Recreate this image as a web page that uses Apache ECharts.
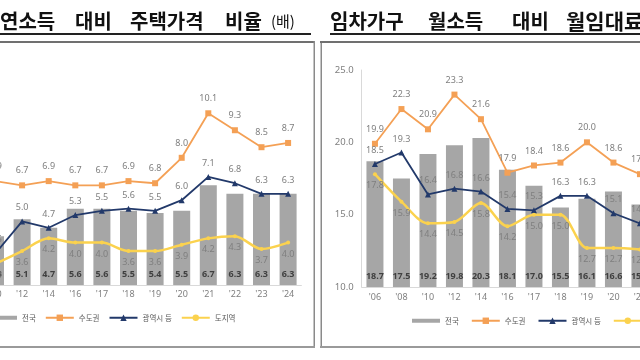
<!DOCTYPE html>
<html><head><meta charset="utf-8">
<script src="https://cdn.jsdelivr.net/npm/echarts@6/dist/echarts.min.js"></script>
<style>html,body{margin:0;padding:0;background:#fff;overflow:hidden}#c{width:640px;height:360px}</style>
</head><body><div id="c"></div>
<script>
// ---- data: 연소득 대비 주택가격 비율 (PIR, 배) ----
const pirYears = ["'06","'08","'10","'12","'14","'16","'17","'18","'19","'20","'21","'22","'23","'24"];
const pirNation   = [null,null,4.3,5.1,4.7,5.6,5.6,5.5,5.4,5.5,6.7,6.3,6.3,6.3];
const pirCapital  = [null,null,6.9,6.7,6.9,6.7,6.7,6.9,6.8,8.0,10.1,9.3,8.5,8.7];
const pirMetro    = [null,null,3.5,5.0,4.7,5.3,5.5,5.6,5.5,6.0,7.1,6.8,6.3,6.3];
const pirProvince = [null,null,3.0,3.6,4.2,4.0,4.0,3.6,3.6,3.9,4.2,4.3,3.7,4.0];
// ---- data: 임차가구 월소득 대비 월임대료 비율 (RIR, %) ----
const rirYears = ["'06","'08","'10","'12","'14","'16","'17","'18","'19","'20","'21","'22","'23","'24"];
const rirNation   = [18.7,17.5,19.2,19.8,20.3,18.1,17.0,15.5,16.1,16.6,15.7,null,null,null];
const rirCapital  = [19.9,22.3,20.9,23.3,21.6,17.9,18.4,18.6,20.0,18.6,17.8,null,null,null];
const rirMetro    = [18.5,19.3,16.4,16.8,16.6,15.4,15.3,16.3,16.3,15.1,14.4,null,null,null];
const rirProvince = [17.8,15.9,14.4,14.5,15.8,14.2,15.0,15.0,12.7,12.7,12.6,null,null,null];
const seriesNames = ['전국','수도권','광역시 등','도지역'];
const rirTicks = [10,15,20,25];

const GRAY='#A6A6A6', ORANGE='#F4A055', NAVY='#22396A', YELLOW='#FBD24E';
const NUMF = "'Noto Sans', sans-serif";
const KRF = "'Noto Sans CJK KR', sans-serif";
const fmt = p => (p.value == null ? '' : Number(p.value).toFixed(1));

function barS(name, data, i){
  return {type:'bar', name, data, xAxisIndex:i, yAxisIndex:i, barWidth:17, z:1,
    itemStyle:{color:GRAY},
    label:{show:true, position:'insideBottom', distance:6, color:'#404040', fontWeight:'bold',
      fontSize:9, fontFamily:NUMF, formatter:fmt}};
}
function lineS(name, data, i, color, symbol, size, lw, pos, dist, smooth){
  return {type:'line', name, data, xAxisIndex:i, yAxisIndex:i, z:3,
    symbol, symbolSize:size, showSymbol:true, smooth:smooth||false,
    lineStyle:{color, width:lw}, itemStyle:{color},
    label:{show:true, position:pos, distance:dist, color:'#7F7F7F', fontSize:9, fontFamily:NUMF, formatter:fmt}};
}

const chart = echarts.init(document.getElementById('c'), null, {renderer:'canvas'});

const legendBase = {itemWidth:28, itemHeight:8, width:500, orient:'horizontal',
  textStyle:{fontSize:7.5, color:'#595959', fontFamily:KRF},
  data:[{name:seriesNames[0], icon:'path://M0,0H28V4H0Z'}, seriesNames[1], seriesNames[2], seriesNames[3]]};

function titleWords(words, y){
  return words.map(w => ({type:'text', x:w[1], y:y, silent:true,
    style:{text:w[0], font:(w[2]||'bold 20px') + " 'Noto Sans CJK KR', sans-serif", fill:'#111',
      textVerticalAlign:'middle', verticalAlign:'middle'}}));
}

chart.setOption({
  backgroundColor:'#fff',
  animation:false,
  grid:[
    {left:-71, width:372.4, top:73, height:212, outerBoundsMode:'none', containLabel:false},
    {left:361.7, width:371, top:70, height:217, outerBoundsMode:'none', containLabel:false}
  ],
  xAxis:[
    {type:'category', gridIndex:0, data:pirYears, axisTick:{show:false},
      axisLine:{lineStyle:{color:'#D9D9D9'}},
      axisLabel:{fontSize:9, color:'#7F7F7F', margin:5, fontFamily:NUMF}},
    {type:'category', gridIndex:1, data:rirYears, axisTick:{show:false},
      axisLine:{lineStyle:{color:'#D9D9D9'}},
      axisLabel:{fontSize:9, color:'#7F7F7F', margin:6, fontFamily:NUMF}}
  ],
  yAxis:[
    {type:'value', gridIndex:0, min:2, max:12, interval:2, show:false},
    {type:'value', gridIndex:1, min:rirTicks[0], max:rirTicks[rirTicks.length-1], interval:5,
      splitLine:{show:false}, axisTick:{show:false},
      axisLine:{show:true, lineStyle:{color:'#D9D9D9'}},
      axisLabel:{fontSize:9.5, color:'#7F7F7F', margin:8, fontFamily:NUMF, formatter:v=>v.toFixed(1)}}
  ],
  legend:[
    Object.assign({}, legendBase, {left:-16, top:309, itemGap:9}),
    Object.assign({}, legendBase, {left:407, top:312, itemGap:12})
  ],
  series:[
    barS(seriesNames[0], pirNation, 0),
    lineS(seriesNames[1], pirCapital, 0, ORANGE, 'rect', 6, 1.8, 'top', 7),
    lineS(seriesNames[2], pirMetro, 0, NAVY, 'triangle', 6, 1.8, 'top', 6),
    lineS(seriesNames[3], pirProvince, 0, YELLOW, 'circle', 4, 2.5, 'bottom', 5, 0.3),
    barS(seriesNames[0], rirNation, 1),
    lineS(seriesNames[1], rirCapital, 1, ORANGE, 'rect', 6, 1.8, 'top', 7),
    lineS(seriesNames[2], rirMetro, 1, NAVY, 'triangle', 6, 1.8, 'top', 6),
    lineS(seriesNames[3], rirProvince, 1, YELLOW, 'circle', 4, 2.5, 'bottom', 5, 0.3)
  ],
  graphic:[].concat(
    titleWords([['연소득',0],['대비',75],['주택가격',130],['비율',225],['(배)',271,'15px']], 21),
    titleWords([['임차가구',330],['월소득',428],['대비',512],['월임대료',566,'bold 21px']], 21),
    [
      {type:'rect', shape:{x:0,y:33,width:311,height:2}, style:{fill:'#222'}, silent:true},
      {type:'rect', shape:{x:330,y:33,width:310,height:2}, style:{fill:'#222'}, silent:true},
      // left panel frame
      {type:'rect', shape:{x:0,y:41,width:315,height:2}, style:{fill:'#707070'}, silent:true},
      {type:'rect', shape:{x:313.5,y:41,width:1.5,height:307}, style:{fill:'#8A8A8A'}, silent:true},
      {type:'rect', shape:{x:0,y:346,width:315,height:2}, style:{fill:'#9A9A9A'}, silent:true},
      // right panel frame
      {type:'rect', shape:{x:320.5,y:41,width:1.5,height:307}, style:{fill:'#8A8A8A'}, silent:true},
      {type:'rect', shape:{x:320,y:41,width:320,height:2}, style:{fill:'#707070'}, silent:true},
      {type:'rect', shape:{x:320,y:346,width:320,height:2}, style:{fill:'#9A9A9A'}, silent:true}
    ]
  )
});
</script></body></html>
